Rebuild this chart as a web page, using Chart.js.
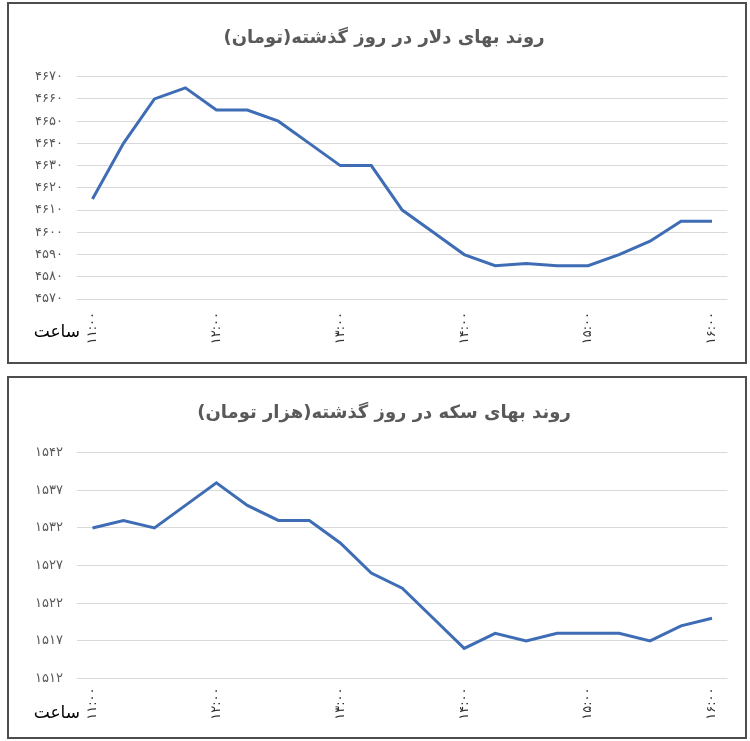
<!DOCTYPE html>
<html><head><meta charset="utf-8">
<script src="https://cdn.jsdelivr.net/npm/chart.js@4/dist/chart.umd.min.js"></script>
<style>
body{margin:0;background:#fff;width:750px;height:741px;position:relative;overflow:hidden;}
.box{position:absolute;left:7px;width:736px;border:2px solid #4d4d4d;background:#fff;}
#b1{top:2px;height:358px;}
#b2{top:376px;height:359px;}
canvas{display:block;}
</style></head><body>
<div class="box" id="b1"><canvas id="c1" width="736" height="358"></canvas></div>
<div class="box" id="b2"><canvas id="c2" width="736" height="359"></canvas></div>
<script>
// categories: every 15 minutes from 11:00 to 16:00
const times = ['۱۱:۰۰','۱۱:۱۵','۱۱:۳۰','۱۱:۴۵','۱۲:۰۰','۱۲:۱۵','۱۲:۳۰','۱۲:۴۵','۱۳:۰۰','۱۳:۱۵','۱۳:۳۰','۱۳:۴۵','۱۴:۰۰','۱۴:۱۵','۱۴:۳۰','۱۴:۴۵','۱۵:۰۰','۱۵:۱۵','۱۵:۳۰','۱۵:۴۵','۱۶:۰۰'];
const dollarValues = [4615,4640,4660,4665,4655,4655,4650,4640,4630,4630,4610,4600,4590,4585,4586,4585,4585,4590,4596,4605,4605];
const coinValues = [1532,1533,1532,1535,1538,1535,1533,1533,1530,1526,1524,1520,1516,1518,1517,1518,1518,1518,1517,1519,1520];
const dollarTicks = [4570,4580,4590,4600,4610,4620,4630,4640,4650,4660,4670];
const coinTicks = [1512,1517,1522,1527,1532,1537,1542];
const dollarTitle = 'روند بهای دلار در روز گذشته(تومان)';
const coinTitle = 'روند بهای سکه در روز گذشته(هزار تومان)';
const hourWord = 'ساعت';

const FONT = '"DejaVu Sans", sans-serif';
const fa = n => String(n).replace(/\d/g, d => '۰۱۲۳۴۵۶۷۸۹'[d]);

function makeChart(id, values, ticks, title, opts){
  const textPlugin = {
    id: 'txt' + id,
    afterDraw(chart){
      const {ctx, chartArea} = chart;
      ctx.save();
      ctx.font = 'bold 18px ' + FONT;
      ctx.fillStyle = '#595959';
      ctx.textAlign = 'center';
      ctx.textBaseline = 'middle';
      ctx.fillText('\u200F' + title + '\u200F', 375, opts.titleY);
      ctx.font = '17px ' + FONT;
      ctx.fillStyle = '#000';
      ctx.textAlign = 'right';
      ctx.fillText(hourWord, chartArea.left + 3, chartArea.bottom + opts.hourDy);
      ctx.restore();
    }
  };
  return new Chart(document.getElementById(id), {
    type: 'line',
    data: {
      labels: times,
      datasets: [{
        data: values,
        borderColor: '#3E6DB5',
        borderWidth: 3,
        pointRadius: 0,
        tension: 0,
        fill: false
      }]
    },
    options: {
      responsive: false,
      animation: false,
      devicePixelRatio: 1,
      layout: { padding: { left: 0, right: 17.5, top: opts.top, bottom: 0 } },
      plugins: {
        legend: { display: false },
        tooltip: { enabled: false },
        title: { display: false }
      },
      scales: {
        x: {
          offset: true,
          grid: { display: false, drawTicks: false },
          border: { display: false },
          ticks: {
            autoSkip: false,
            minRotation: 90,
            maxRotation: 90,
            padding: opts.xPad,
            color: '#333333',
            font: { family: FONT, size: 13 },
            callback: function(v){ const l = this.getLabelForValue(v); return l.slice(-3) === ':۰۰' ? l : ''; }
          },
          afterFit: s => { s.height = opts.xHeight; }
        },
        y: {
          min: ticks[0],
          max: ticks[ticks.length - 1],
          afterBuildTicks: s => { s.ticks = ticks.map(v => ({ value: v })); },
          grid: { color: '#d9d9d9', lineWidth: 1, drawTicks: false },
          border: { display: false },
          ticks: {
            padding: 14,
            color: '#595959',
            font: { family: FONT, size: 13 },
            callback: v => fa(v)
          },
          afterFit: s => { s.width = 68; }
        }
      }
    },
    plugins: [textPlugin]
  });
}

makeChart('c1', dollarValues, dollarTicks, dollarTitle,
  { top: 72.7, titleY: 34, xHeight: 63, xPad: 13, hourDy: 34 });
makeChart('c2', coinValues, coinTicks, coinTitle,
  { top: 74.7, titleY: 35, xHeight: 58.5, xPad: 9, hourDy: 35 });
</script>
</body></html>
